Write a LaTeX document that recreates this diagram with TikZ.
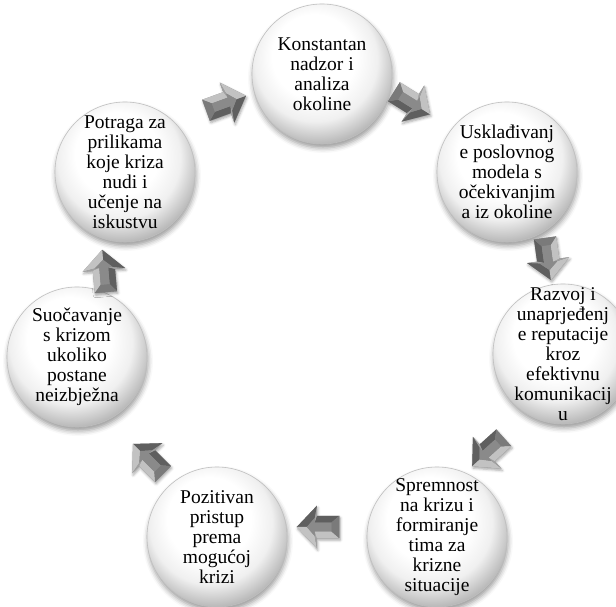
\documentclass[tikz,border=0pt]{standalone}
\usepackage{fontspec}
\setmainfont{Liberation Serif}
\usetikzlibrary{shadows.blur}

% glossy button fill: white core, grey rim that darkens towards the bottom
\pgfdeclareradialshading{buttonshade}{\pgfpoint{-4bp}{9bp}}{%
  color(0bp)=(white); color(15bp)=(white); color(22bp)=(black!6);
  color(27bp)=(black!22); color(34bp)=(black!45); color(50bp)=(black!45)}

\definecolor{arrface}{HTML}{8A8A8A}
\definecolor{arrlight}{HTML}{C2C2C2}
\definecolor{arrmed}{HTML}{A0A0A0}
\definecolor{arrdark}{HTML}{5F5F5F}
\definecolor{arrback}{HTML}{7A7A7A}

\tikzset{
  stage/.style={circle, minimum size=140pt, inner sep=0pt, shading=buttonshade,
    draw=black!25, line width=0.6pt,
    blur shadow={shadow xshift=1pt, shadow yshift=-4pt, shadow blur radius=5pt, shadow opacity=40}},
  stagetext/.style={align=center, inner sep=0pt,
    font=\fontsize{19.5}{20}\selectfont},
  % bevelled block arrow pointing along local +x
  bevelarrow/.pic={
    \path[fill=arrface, blur shadow={shadow xshift=1pt, shadow yshift=-2pt, shadow blur radius=2.5pt, shadow opacity=35}]
      (-19,-10) -- (1,-10) -- (1,-19) -- (19,0) -- (1,19) -- (1,10) -- (-19,10) -- cycle;
    \fill[arrdark]  (-19,-10) -- (1,-10)  -- (3,-4)  -- (-12,-4) -- cycle;
    \fill[arrmed]   (1,-10)   -- (1,-19)  -- (3,-8)  -- (3,-4)   -- cycle;
    \fill[arrdark]  (1,-19)   -- (19,0)   -- (10,0)  -- (3,-8)   -- cycle;
    \fill[arrlight] (19,0)    -- (1,19)   -- (3,8)   -- (10,0)   -- cycle;
    \fill[arrmed]   (1,19)    -- (1,10)   -- (3,4)   -- (3,8)    -- cycle;
    \fill[arrlight] (1,10)    -- (-19,10) -- (-12,4) -- (3,4)    -- cycle;
    \fill[arrback]  (-19,10)  -- (-19,-10)-- (-12,-4)-- (-12,4)  -- cycle;
    \fill[arrface]  (-12,-4) -- (3,-4) -- (3,-8) -- (10,0) -- (3,8) -- (3,4) -- (-12,4) -- cycle;
  }
}

\begin{document}
\begin{tikzpicture}[x=1pt, y=1pt]
\useasboundingbox (0,0) rectangle (616,607);

% the seven stages of the cycle
\node[stage] (c1) at (322,533) {};
\node[stage] (c2) at (507,435) {};
\node[stage] (c3) at (563,253) {};
\node[stage] (c4) at (437,70)  {};
\node[stage] (c5) at (217,70)  {};
\node[stage] (c6) at (77,250)  {};
\node[stage] (c7) at (125,435) {};

\node[stagetext] (t1) at (c1) {Konstantan\\nadzor i\\analiza\\okoline};
\node[stagetext] (t2) at (c2) {Usklađivanj\\e poslovnog\\modela s\\očekivanjim\\a iz okoline};
\node[stagetext] (t3) at (c3) {Razvoj i\\unaprjeđenj\\e reputacije\\kroz\\efektivnu\\komunikacij\\u};
\node[stagetext] (t4) at (c4) {Spremnost\\na krizu i\\formiranje\\tima za\\krizne\\situacije};
\node[stagetext] (t5) at (c5) {Pozitivan\\pristup\\prema\\mogućoj\\krizi};
\node[stagetext] (t6) at (c6) {Suočavanje\\s krizom\\ukoliko\\postane\\neizbježna};
\node[stagetext] (t7) at (c7) {Potraga za\\prilikama\\koje kriza\\nudi i\\učenje na\\iskustvu};

% arrows leading from each stage to the next
\pic[rotate=20,   scale=1.12] at (226,504) {bevelarrow};
\pic[rotate=-32,  scale=1.12] at (412,504) {bevelarrow};
\pic[rotate=-82,  scale=1.12] at (548,348) {bevelarrow};
\pic[rotate=-138, scale=1.12] at (488,155) {bevelarrow};
\pic[rotate=180,  scale=1.12] at (318,80)  {bevelarrow};
\pic[rotate=135,  scale=1.12] at (148,148) {bevelarrow};
\pic[rotate=95,   scale=1.12] at (104,336) {bevelarrow};
\end{tikzpicture}
\end{document}
